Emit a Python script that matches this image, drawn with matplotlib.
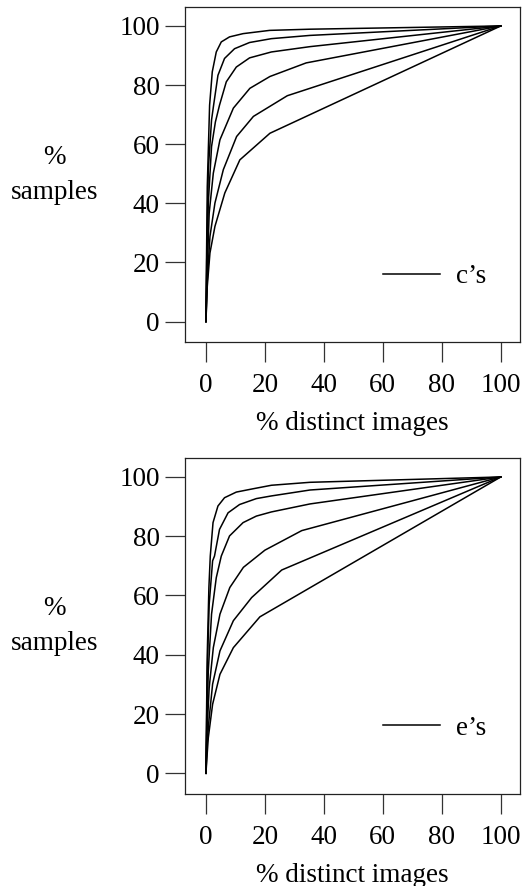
import numpy as np
import matplotlib
matplotlib.use('Agg')
import matplotlib.pyplot as plt

plt.rcParams['font.family'] = ['Liberation Serif', 'DejaVu Serif']
plt.rcParams['font.size'] = 19.5

# Courbes du haut (c's), de la plus rapide a la plus lente
c_x = [
    [0, 0.2, 0.45, 1.24, 2.15, 3.5, 5.2, 8.0, 12.6, 21.6, 35.3, 100],
    [0, 0.25, 0.8, 1.9, 2.6, 4.07, 6.3, 9.7, 14.8, 22.2, 35.3, 100],
    [0, 0.3, 0.8, 1.9, 3.2, 4.6, 6.9, 10.3, 14.8, 22.2, 35.3, 100],
    [0, 0.35, 1.1, 2.5, 4.75, 9.3, 14.9, 21.7, 34.0, 100],
    [0, 0.4, 1.36, 3.05, 5.9, 10.4, 16.1, 27.6, 100],
    [0, 0.45, 1.36, 3.05, 6.4, 11.5, 21.7, 100],
]
c_y = [
    [0, 22, 45.6, 73.2, 84.5, 91.2, 94.6, 96.3, 97.4, 98.5, 98.9, 100],
    [0, 20, 51.4, 68.2, 73.2, 83.3, 89.0, 92.3, 94.4, 95.7, 96.8, 100],
    [0, 18, 40.1, 59.2, 67.5, 73.2, 81.1, 86.1, 89.2, 91.2, 93.0, 100],
    [0, 15, 36.7, 50.2, 61.5, 72.2, 78.9, 82.9, 87.5, 100],
    [0, 13, 28.8, 40.1, 51.4, 62.6, 69.4, 76.4, 100],
    [0, 11.9, 23.2, 32.2, 43.5, 54.7, 63.7, 100],
]

# Courbes du bas (e's)
e_x = [
    [0, 0.2, 0.45, 1.0, 1.47, 2.4, 4.07, 6.3, 10.3, 15.9, 22.2, 35.3, 100],
    [0, 0.25, 0.45, 1.1, 2.26, 2.9, 4.6, 7.5, 11.4, 17.1, 22.2, 35.3, 100],
    [0, 0.3, 0.8, 1.9, 3.5, 5.2, 8.0, 12.6, 17.1, 22.2, 35.3, 100],
    [0, 0.35, 1.1, 2.5, 4.75, 8.1, 12.7, 20.0, 32.5, 100],
    [0, 0.4, 1.0, 2.26, 4.75, 9.3, 15.5, 25.7, 100],
    [0, 0.45, 0.8, 2.26, 4.75, 9.3, 18.3, 100],
]
e_y = [
    [0, 20, 40.2, 62.7, 73.3, 84.6, 90.2, 93.0, 94.9, 96.0, 97.2, 98.2, 100],
    [0, 18, 34.6, 57.1, 71.7, 73.3, 82.3, 87.9, 90.7, 92.7, 93.6, 95.6, 100],
    [0, 16, 34.6, 53.7, 66.0, 73.3, 80.1, 84.6, 86.8, 88.2, 90.9, 100],
    [0, 14, 28.9, 42.4, 53.7, 62.7, 69.5, 75.3, 81.9, 100],
    [0, 10, 17.7, 30.1, 41.3, 51.5, 59.3, 68.6, 100],
    [0, 7, 12.0, 23.3, 33.4, 42.4, 52.8, 100],
]

ticks = [0, 20, 40, 60, 80, 100]
legend_labels = ['c\u2019s', 'e\u2019s']

fig = plt.figure(figsize=(5.22, 8.86), dpi=100)
ax1 = fig.add_axes([0.355, 0.6137, 0.641, 0.3787])
ax2 = fig.add_axes([0.355, 0.1038, 0.641, 0.3796])

for ax, xs, ys, lab in [(ax1, c_x, c_y, legend_labels[0]), (ax2, e_x, e_y, legend_labels[1])]:
    lines = []
    for x, y in zip(xs, ys):
        l, = ax.plot(x, y, color='black', lw=1.1)
        lines.append(l)
    ax.set_xlim(-7, 106.5)
    ax.set_ylim(-7, 106.5)
    ax.set_xticks(ticks)
    ax.set_yticks(ticks)
    ax.tick_params(direction='out', length=14.4, width=0.9, color='#333333')
    ax.tick_params(axis='x', pad=8)
    ax.tick_params(axis='y', pad=4)
    for s in ax.spines.values():
        s.set_linewidth(0.9)
        s.set_color('#222222')
    ax.set_xlabel('% distinct images', labelpad=9)
    ax.text(-0.392, 0.499, '%\nsamples', transform=ax.transAxes,
            ha='center', va='center', multialignment='center', linespacing=1.55)
    ax.legend([lines[0]], [lab], frameon=False, loc='center left',
              bbox_to_anchor=(0.5916, 0.1955), borderaxespad=0, borderpad=0,
              handlelength=2.1, handletextpad=0.6)

plt.savefig('out.png', dpi=100)
